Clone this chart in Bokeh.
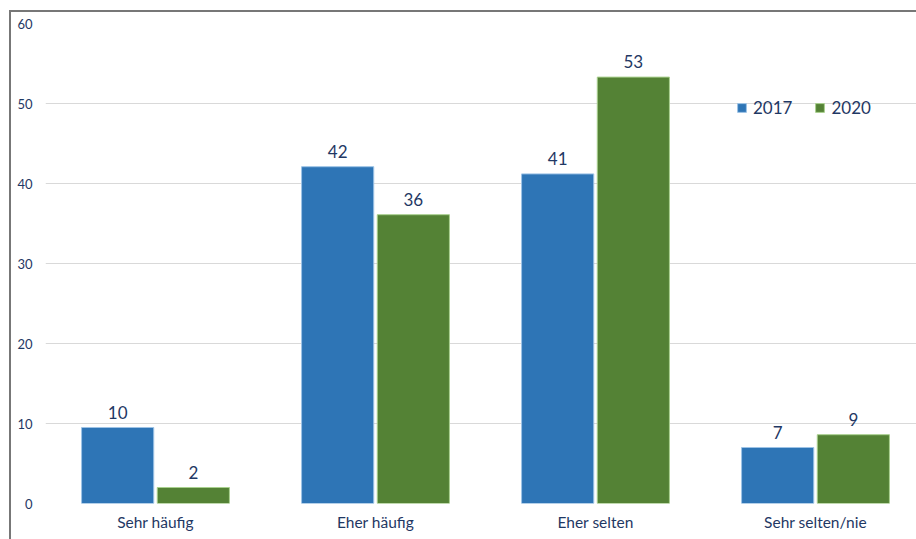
from bokeh.plotting import figure
from bokeh.models import FixedTicker, Legend, LegendItem, ColumnDataSource
from bokeh.embed import file_html
from bokeh.resources import INLINE
from bokeh.core.properties import value

categories = ["Sehr häufig", "Eher häufig", "Eher selten", "Sehr selten/nie"]
series_names = ["2017", "2020"]
values_2017 = [9.5, 42.1, 41.2, 7.0]
values_2020 = [2.0, 36.1, 53.3, 8.6]
labels_2017 = ["10", "42", "41", "7"]
labels_2020 = ["2", "36", "53", "9"]
y_ticks = [0, 10, 20, 30, 40, 50, 60]

FONT = "Lato"
NAVY = "#1F3864"
BLUE = "#2E75B6"
GREEN = "#548235"

centers = [i + 0.5 for i in range(len(categories))]
off = 0.172
bw = 0.328

p = figure(width=907, height=529, output_backend="svg", toolbar_location=None,
           x_range=(0, 871 / 219.5), y_range=(0, 60),
           min_border_left=34, min_border_right=0, min_border_top=11, min_border_bottom=38)
p.margin = (10, 0, 0, 9)
p.styles = {"border-top": "2px solid #777777", "border-left": "2px solid #777777", "box-sizing": "border-box"}
p.outline_line_color = None
p.background_fill_color = "white"
p.border_fill_color = "white"

src17 = ColumnDataSource(dict(x=[c - off for c in centers], top=values_2017, lab=labels_2017))
src20 = ColumnDataSource(dict(x=[c + off for c in centers], top=values_2020, lab=labels_2020))

r17 = p.vbar(x="x", top="top", bottom=0, width=bw, source=src17, fill_color=BLUE, line_color="#9DC3E6", line_width=1)
r20 = p.vbar(x="x", top="top", bottom=0, width=bw, source=src20, fill_color=GREEN, line_color="#A9D18E", line_width=1)

for s in (src17, src20):
    p.text(x="x", y="top", text="lab", source=s, text_align="center", text_baseline="bottom",
           y_offset=-9, text_font=value(FONT), text_font_size="17px", text_color=NAVY)

p.xaxis.ticker = FixedTicker(ticks=centers)
p.xaxis.major_label_overrides = {c: n for c, n in zip(centers, categories)}
p.xaxis.major_label_text_font = FONT
p.xaxis.major_label_text_font_size = "15.5px"
p.xaxis.major_label_text_color = NAVY
p.xaxis.major_label_standoff = 9
p.xaxis.major_tick_out = 0
p.xaxis.major_tick_in = 0
p.xaxis.axis_line_color = None
p.xaxis.major_tick_line_color = None
p.xaxis.minor_tick_line_color = None

p.yaxis.ticker = FixedTicker(ticks=y_ticks)
p.yaxis.major_label_text_font = FONT
p.yaxis.major_label_text_font_size = "13px"
p.yaxis.major_label_text_color = NAVY
p.yaxis.major_label_standoff = 13
p.yaxis.major_tick_out = 0
p.yaxis.major_tick_in = 0
p.yaxis.axis_line_color = None
p.yaxis.major_tick_line_color = None
p.yaxis.minor_tick_line_color = None

p.xgrid.grid_line_color = None
p.ygrid.grid_line_color = "#D9D9D9"
p.ygrid.grid_line_width = 1

legend = Legend(items=[LegendItem(label=series_names[0], renderers=[r17]),
                       LegendItem(label=series_names[1], renderers=[r20])],
                orientation="horizontal", location=(691, 385))
legend.label_text_font = FONT
legend.label_text_font_size = "17px"
legend.label_text_color = NAVY
legend.glyph_width = 11
legend.glyph_height = 11
legend.label_standoff = 6
legend.spacing = 22
legend.padding = 0
legend.margin = 0
legend.border_line_color = None
legend.background_fill_alpha = 0
p.add_layout(legend, "center")

open("out.html", "w").write(file_html(p, INLINE))
